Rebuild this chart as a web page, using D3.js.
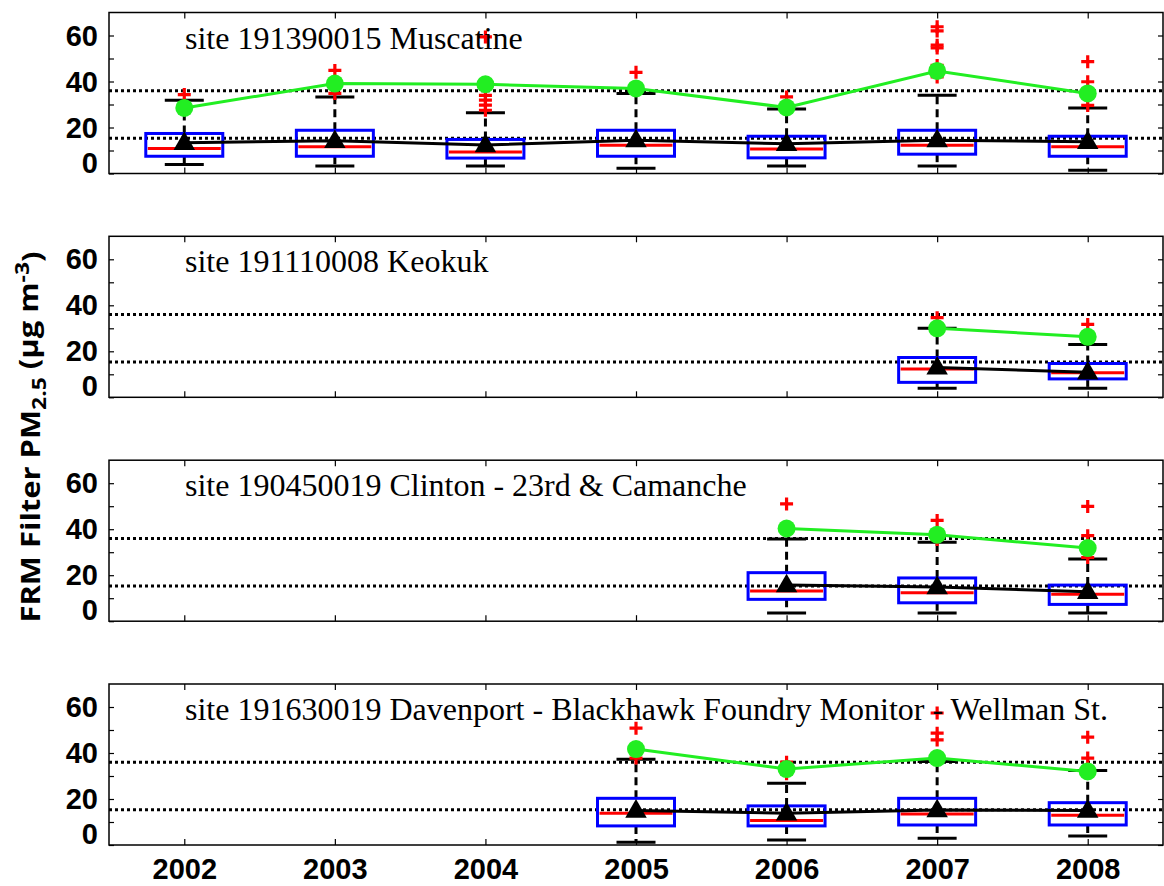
<!DOCTYPE html>
<html>
<head>
<meta charset="utf-8">
<script src="https://cdn.jsdelivr.net/npm/d3@7"></script>
<style>
  body { margin: 0; background: #fff; }
  svg { display: block; }
  .tick line { stroke: #000; stroke-width: 1.2px; }
  .domain { display: none; }
</style>
</head>
<body>
<svg id="chart" width="1164" height="886"></svg>
<script>
// years on the x axis
var years = [2002, 2003, 2004, 2005, 2006, 2007, 2008];

var siteNames = [
	"site 191390015 Muscatine",
	"site 191110008 Keokuk",
	"site 190450019 Clinton - 23rd & Camanche",
	"site 191630019 Davenport - Blackhawk Foundry Monitor - Wellman St."
];

// NAAQS reference lines (24-hr and annual)
var refLines = [36, 15.3];

// box statistics, one row per site, one entry per year (null = no data)
var q1Vals = [
	[7.5, 7.5, 6.7, 7.5, 6.8, 8.4, 7.5],
	[null, null, null, null, null, 6.5, 8.0],
	[null, null, null, null, 9.5, 8.0, 7.3],
	[null, null, null, 8.3, 8.3, 8.7, 8.7]
];
var medianVals = [
	[10.9, 11.6, 9.3, 12.3, 10.7, 12.3, 11.6],
	[null, null, null, null, null, 12.3, 10.7],
	[null, null, null, null, 13.1, 12.4, 11.7],
	[null, null, null, 13.8, 10.6, 13.5, 12.9]
];
var q3Vals = [
	[17.4, 18.8, 14.8, 18.8, 16.2, 18.8, 16.2],
	[null, null, null, null, null, 17.3, 14.7],
	[null, null, null, null, 21.1, 18.8, 15.7],
	[null, null, null, 20.3, 17.0, 20.3, 18.4]
];
var whiskerLow = [
	[3.9, 3.3, 3.3, 2.3, 3.3, 3.3, 1.4],
	[null, null, null, null, null, 3.9, 3.9],
	[null, null, null, null, 3.6, 3.6, 3.6],
	[null, null, null, 1.2, 2.2, 2.9, 3.9]
];
var whiskerHigh = [
	[31.9, 33.3, 26.4, 34.8, 28.0, 34.0, 28.5],
	[null, null, null, null, null, 30.0, 23.0],
	[null, null, null, null, 35.7, 34.3, 27.0],
	[null, null, null, 37.3, 26.9, 36.3, 32.4]
];
var outlierVals = [
	[[34.3], [44.8, 34.8], [59.4, 34, 31.9, 29.7, 27.5], [44], [33.3], [63.8, 62, 55.8, 54.6, 47, 44.2, 42], [48.6, 39.9, 29.6]],
	[[], [], [], [], [], [34.6], [31.7]],
	[[], [], [], [], [51], [43.8, 35.5], [49.9, 37.2, 27.7]],
	[[], [], [], [50.8, 37.8], [36, 31], [57.4, 48.6, 45.7], [46.9, 37.8]]
];

// annual mean (black triangles) and high value (green circles)
var meanVals = [
	[13.4, 14.2, 12.4, 14.5, 12.9, 14.5, 13.8],
	[null, null, null, null, null, 13.0, 10.9],
	[null, null, null, null, 15.7, 14.9, 12.8],
	[null, null, null, 15.0, 13.8, 15.2, 15.0]
];
var highVals = [
	[28.5, 39.1, 38.8, 37.0, 28.7, 44.6, 34.8],
	[null, null, null, null, null, 30.0, 26.3],
	[null, null, null, null, 40.3, 37.6, 31.8],
	[null, null, null, 41.7, 33.0, 37.8, 32.0]
];

var yTicks = [0, 10, 20, 30, 40, 50, 60];

var svg = d3.select("#chart");
var left = 109, right = 1163;
var panelTop = [12.5, 236.3, 460.2, 684], panelH = 161;
var boxW = 77, capW = 39;
var green = "#22ee22";
var tickFont = "'Liberation Sans', Arial, sans-serif";

var x = d3.scaleLinear().domain([2001.5, 2008.5]).range([left, right]);

siteNames.forEach(function (name, p) {
	var top = panelTop[p], bottom = top + panelH;
	var y = d3.scaleLinear().domain([0, 70]).range([bottom, top]);
	var g = svg.append("g");

	// axes, ticks point inward
	var ax = g.append("g").attr("transform", "translate(" + left + ",0)")
		.call(d3.axisLeft(y).tickValues(yTicks).tickSizeInner(-5).tickSizeOuter(0).tickPadding(11)
			.tickFormat(function (d) { return d % 20 === 0 ? d : ""; }));
	ax.selectAll("text")
		.style("font-family", tickFont)
		.style("font-weight", "bold").style("font-size", "29px").attr("fill", "#000")
		.attr("dy", function (d) { return d === 0 ? "-0.05em" : "0.33em"; });

	g.append("g").attr("transform", "translate(" + right + ",0)")
		.call(d3.axisRight(y).tickValues(yTicks).tickSizeInner(-5).tickSizeOuter(0).tickFormat(""));
	g.append("g").attr("transform", "translate(0," + top + ")")
		.call(d3.axisTop(x).tickValues(years).tickSizeInner(-6).tickSizeOuter(0).tickFormat(""));
	var bx = g.append("g").attr("transform", "translate(0," + bottom + ")")
		.call(d3.axisBottom(x).tickValues(years).tickSizeInner(-6).tickSizeOuter(0).tickPadding(13)
			.tickFormat(p === 3 ? d3.format("d") : ""));
	bx.selectAll("text")
		.style("font-family", tickFont)
		.style("font-weight", "bold").style("font-size", "29px").attr("fill", "#000");

	g.append("rect")
		.attr("x", left).attr("y", top).attr("width", right - left).attr("height", panelH)
		.attr("fill", "none").attr("stroke", "#000").attr("stroke-width", 1.5);

	// reference lines
	g.selectAll(".ref").data(refLines).enter().append("line")
		.attr("x1", left).attr("x2", right)
		.attr("y1", function (d) { return y(d); }).attr("y2", function (d) { return y(d); })
		.attr("stroke", "#000").attr("stroke-width", 3).attr("stroke-dasharray", "3,3");

	// years that have data for this site
	var idx = years.map(function (yr, i) { return i; }).filter(function (i) { return q1Vals[p][i] != null; });

	idx.forEach(function (i) {
		var cx = x(years[i]);
		// dashed whiskers with solid caps
		[[q3Vals[p][i], whiskerHigh[p][i]], [q1Vals[p][i], whiskerLow[p][i]]].forEach(function (w) {
			g.append("line").attr("x1", cx).attr("x2", cx)
				.attr("y1", y(w[0])).attr("y2", y(w[1]))
				.attr("stroke", "#000").attr("stroke-width", 3).attr("stroke-dasharray", "8,5");
			g.append("line").attr("x1", cx - capW / 2).attr("x2", cx + capW / 2)
				.attr("y1", y(w[1])).attr("y2", y(w[1]))
				.attr("stroke", "#000").attr("stroke-width", 3);
		});
		g.append("rect")
			.attr("x", cx - boxW / 2).attr("width", boxW)
			.attr("y", y(q3Vals[p][i])).attr("height", y(q1Vals[p][i]) - y(q3Vals[p][i]))
			.attr("fill", "none").attr("stroke", "#0000ff").attr("stroke-width", 3);
		g.append("line").attr("x1", cx - boxW / 2 + 2).attr("x2", cx + boxW / 2 - 2)
			.attr("y1", y(medianVals[p][i])).attr("y2", y(medianVals[p][i]))
			.attr("stroke", "#ff0000").attr("stroke-width", 3);
		// outliers as red plus signs
		outlierVals[p][i].forEach(function (o) {
			g.append("path")
				.attr("transform", "translate(" + cx + "," + y(o) + ")")
				.attr("d", "M-6.5,0H6.5M0,-6.5V6.5")
				.attr("stroke", "#ff0000").attr("stroke-width", 3.2).attr("fill", "none");
		});
	});

	// mean line + triangles
	var meanPts = idx.map(function (i) { return [x(years[i]), y(meanVals[p][i])]; });
	g.append("path").attr("d", d3.line()(meanPts))
		.attr("fill", "none").attr("stroke", "#000").attr("stroke-width", 3);
	g.selectAll(".tri").data(meanPts).enter().append("path")
		.attr("transform", function (d) { return "translate(" + d[0] + "," + (d[1] + 1) + ")"; })
		.attr("d", d3.symbol().type(d3.symbolTriangle).size(200)())
		.attr("fill", "#000");

	// high values line + circles
	var highPts = idx.map(function (i) { return [x(years[i]), y(highVals[p][i])]; });
	g.append("path").attr("d", d3.line()(highPts))
		.attr("fill", "none").attr("stroke", green).attr("stroke-width", 3);
	g.selectAll(".dot").data(highPts).enter().append("circle")
		.attr("cx", function (d) { return d[0]; }).attr("cy", function (d) { return d[1]; })
		.attr("r", 9).attr("fill", green);

	// site label
	g.append("text")
		.attr("x", 185).attr("y", top + 36)
		.style("font-family", "'Liberation Serif', 'Times New Roman', serif")
		.style("font-size", "32px").attr("fill", "#000")
		.text(name);
});

// y axis title
var title = svg.append("text")
	.attr("transform", "translate(40,437) rotate(-90)")
	.attr("text-anchor", "middle")
	.style("font-family", "'Open Sans', 'Noto Sans', sans-serif")
	.style("font-weight", "bold").style("font-size", "27px").attr("fill", "#000")
	.attr("textLength", 371).attr("lengthAdjust", "spacingAndGlyphs");
title.append("tspan").text("FRM Filter PM");
title.append("tspan").attr("dy", "0.3em").style("font-size", "20px").text("2.5");
title.append("tspan").attr("dy", "-0.3em").text(" (\u00b5g m");
title.append("tspan").attr("dy", "-0.45em").style("font-size", "20px").text("-3");
title.append("tspan").attr("dy", "0.45em").text(")");
</script>
</body>
</html>
